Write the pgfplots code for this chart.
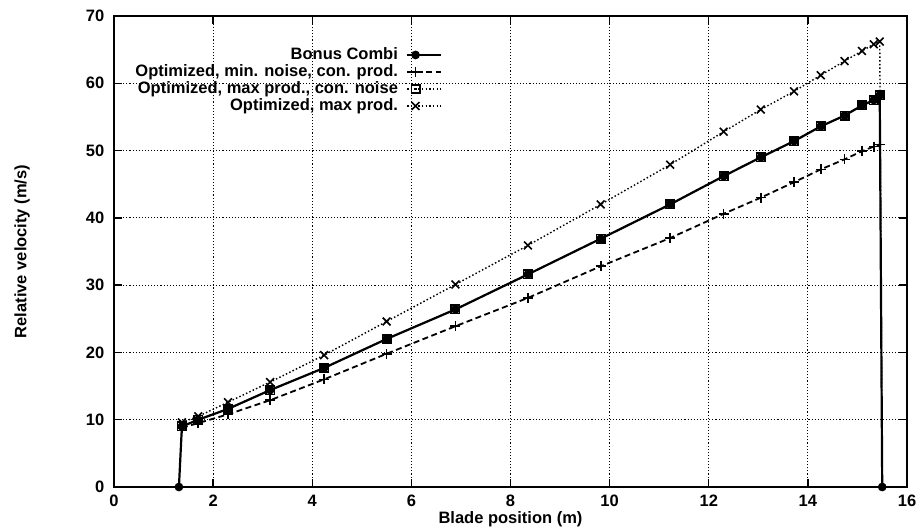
\documentclass[border=0pt]{standalone}
\usepackage{fontspec}
\setmainfont{Liberation Sans}
\usepackage{pgfplots}
\pgfplotsset{compat=1.18}
\begin{document}
\fontsize{16.5}{19}\selectfont\bfseries
\begin{tikzpicture}
\begin{axis}[
  scale only axis, width=793pt, height=471pt,
  xmin=0, xmax=16, ymin=0, ymax=70,
  xtick={0,2,...,16}, ytick={0,10,...,70},
  grid=major, grid style={black, dash pattern=on 1.1pt off 2pt, line width=1.1pt},
  axis line style={line width=1.4pt},
  tick style={black, line width=1.3pt}, major tick length=8pt,
  tick align=inside,
  /pgf/number format/assume math mode=true,
  ticklabel style={font=\fontsize{16.5}{19}\selectfont\bfseries},
  yticklabel style={xshift=-4pt},
  xticklabel style={yshift=-2pt},
  xlabel={Blade position (m)}, ylabel={Relative velocity (m/s)},
  xlabel style={at={(axis description cs:0.5,-0.068)}, anchor=center, font=\fontsize{16.5}{19}\selectfont\bfseries},
  ylabel style={at={(axis description cs:-0.116,0.5)}, anchor=center, font=\fontsize{16.5}{19}\selectfont\bfseries},
  legend plot pos=right,
  legend image code/.code={\draw[mark repeat=2,mark phase=2,#1] plot coordinates {(0cm,0cm) (0.3cm,0cm) (1.2cm,0cm)};},
  legend style={at={(0.418,0.94)}, anchor=north east, draw=none, fill=none,
    legend cell align=right, font=\fontsize{16.5}{19}\selectfont\bfseries,
    row sep=0pt, nodes={inner sep=1pt, text height=11.8pt, text depth=3.2pt},
    /tikz/every odd column/.append style={column sep=7pt}},
]
% Bonus Combi
\addplot[black, solid, line width=2.2pt, mark=*, mark size=3.2pt] coordinates {
(1.31,0) (1.37,9.0) (1.70,10.0) (2.30,11.6) (3.15,14.4) (4.24,17.7) (5.50,22.0) (6.89,26.4)
(8.35,31.6) (9.82,36.9) (11.22,42.0) (12.30,46.2) (13.05,49.0) (13.72,51.4) (14.26,53.6)
(14.74,55.2) (15.09,56.7) (15.33,57.5) (15.45,58.2) (15.50,0)};
\addlegendentry{Bonus Combi}
% Optimized, min. noise, con. prod.
\addplot[black, dash pattern=on 6pt off 3.5pt, line width=1.8pt, mark=+, mark size=5pt, mark options={solid, line width=1.6pt}] coordinates {
(1.37,8.8) (1.70,9.5) (2.30,10.8) (3.15,12.9) (4.24,16.0) (5.50,19.8) (6.89,23.9)
(8.35,28.1) (9.82,32.8) (11.22,37.0) (12.30,40.6) (13.05,43.0) (13.72,45.3) (14.26,47.2)
(14.74,48.7) (15.09,49.9) (15.33,50.6) (15.45,50.9)};
\addlegendentry{Optimized, min. noise, con. prod.}
% Optimized, max prod., con. noise
\addplot[black, dash pattern=on 1.5pt off 2.2pt, line width=1.5pt, mark=square, mark size=4.2pt, mark options={solid, line width=1.6pt}] coordinates {
(1.37,9.0) (1.70,10.0) (2.30,11.6) (3.15,14.4) (4.24,17.7) (5.50,22.0) (6.89,26.4)
(8.35,31.6) (9.82,36.9) (11.22,42.0) (12.30,46.2) (13.05,49.0) (13.72,51.4) (14.26,53.6)
(14.74,55.2) (15.09,56.7) (15.33,57.5) (15.45,58.2)};
\addlegendentry{Optimized, max prod., con. noise}
% Optimized, max prod.
\addplot[black, dash pattern=on 1.5pt off 2.2pt, line width=1.4pt, mark=x, mark size=5.5pt, mark options={solid, line width=1.6pt}] coordinates {
(1.37,9.6) (1.70,10.5) (2.30,12.6) (3.15,15.6) (4.24,19.6) (5.50,24.6) (6.89,30.1)
(8.35,35.9) (9.82,42.0) (11.22,47.9) (12.30,52.8) (13.05,56.1) (13.72,58.8) (14.26,61.2)
(14.74,63.3) (15.09,64.8) (15.33,65.8) (15.45,66.2)};
\addlegendentry{Optimized, max prod.}
\addplot[forget plot, black, dash pattern=on 1.5pt off 2.2pt, line width=1.4pt, no marks] coordinates {
(15.45,66.2) (15.50,0)};
\end{axis}
\pgfresetboundingbox
\path[use as bounding box] (-114pt,-42pt) rectangle (809pt,487pt);
\end{tikzpicture}
\end{document}
